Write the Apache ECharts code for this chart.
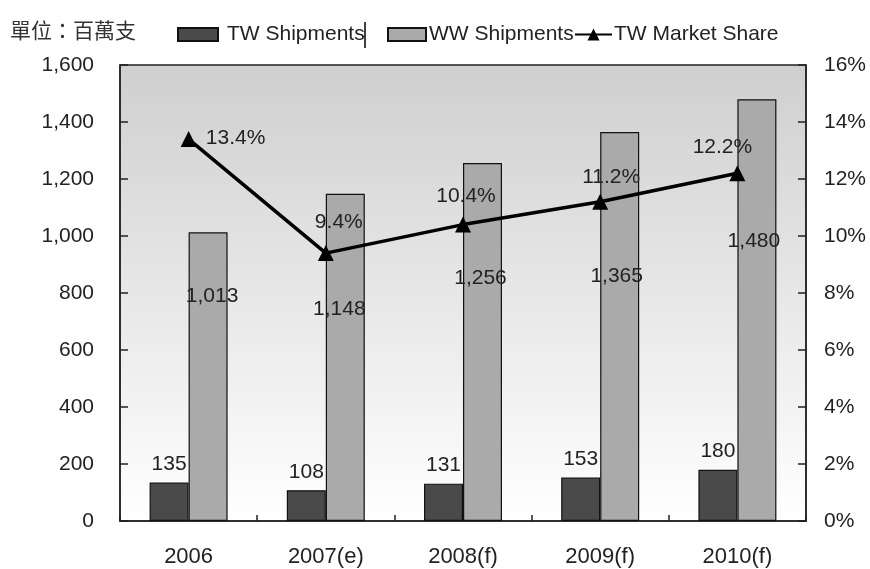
<!DOCTYPE html>
<html>
<head>
<meta charset="utf-8">
<script src="https://cdn.jsdelivr.net/npm/echarts@6/dist/echarts.min.js"></script>
<style>
html,body{margin:0;padding:0;background:#fff;}
#chart{width:870px;height:569px;}
</style>
</head>
<body>
<div id="chart"></div>
<script>
// ---- data ----
var categories = ['2006', '2007(e)', '2008(f)', '2009(f)', '2010(f)'];
var twShipments = [135, 108, 131, 153, 180];
var wwShipments = [1013, 1148, 1256, 1365, 1480];
var twShare = [13.4, 9.4, 10.4, 11.2, 12.2];
var unitLabel = '單位：百萬支';
var seriesNames = ['TW Shipments', 'WW Shipments', 'TW Market Share'];

// ---- label placement (layout only) ----
var wwLabelOffsets = [[4, 74], [-6, 126], [-2, 126], [-3, 155], [-3, 153]];
var shareLabelOffsets = [[47, -1], [13, -31], [3, -28], [11, -25], [-15, -26]];

var FONT = '"Liberation Sans", Arial, sans-serif';
var TXT = '#222';

var chart = echarts.init(document.getElementById('chart'), null, {renderer: 'canvas'});

function fmtComma(v) {
  return String(v).replace(/\B(?=(\d{3})+(?!\d))/g, ',');
}

var wwData = wwShipments.map(function (v, i) {
  return {value: v, label: {offset: wwLabelOffsets[i]}};
});
var shareData = twShare.map(function (v, i) {
  return {value: v, label: {offset: shareLabelOffsets[i]}};
});

var option = {
  animation: false,
  backgroundColor: '#fff',
  textStyle: {fontFamily: FONT},
  grid: {
    left: 120, right: 64, top: 65, bottom: 48,
    show: true,
    borderColor: '#222', borderWidth: 1.5,
    backgroundColor: new echarts.graphic.LinearGradient(0, 0, 0, 1, [
      {offset: 0, color: '#cfcfcf'},
      {offset: 1, color: '#ffffff'}
    ])
  },
  title: {
    text: unitLabel, left: 5, top: 15,
    textStyle: {fontFamily: '"Noto Sans CJK TC", sans-serif', fontSize: 21, fontWeight: 'normal', color: '#333'}
  },
  legend: [
    {data: [{name: seriesNames[0], icon: 'rect'}], left: 177, top: 24, padding: 0, itemWidth: 40, itemHeight: 13, itemGap: 0,
     textStyle: {fontSize: 21, color: TXT, fontFamily: FONT, padding: [0, 0, 0, 4]}},
    {data: [{name: seriesNames[1], icon: 'rect'}], left: 387, top: 24, padding: 0, itemWidth: 38, itemHeight: 13, itemGap: 0,
     textStyle: {fontSize: 21, color: TXT, fontFamily: FONT, padding: [0, 0, 0, -2]}},
    {data: [seriesNames[2]], left: 574, top: 24, padding: 0, itemWidth: 37, itemHeight: 15, itemGap: 0,
     textStyle: {fontSize: 21, color: TXT, fontFamily: FONT, padding: [0, 0, 0, -3]}}
  ],
  graphic: [
    {type: 'line', shape: {x1: 365, y1: 22, x2: 365, y2: 48}, style: {stroke: '#000', lineWidth: 1.5}}
  ],
  xAxis: {
    type: 'category',
    data: categories,
    boundaryGap: true,
    axisLine: {show: true, lineStyle: {color: '#222', width: 1.5}},
    axisTick: {show: true, inside: true, length: 6, alignWithLabel: false, lineStyle: {color: '#222', width: 1.5}},
    axisLabel: {fontSize: 22, color: TXT, margin: 25, fontFamily: FONT},
    splitLine: {show: false}
  },
  yAxis: [
    {
      type: 'value', min: 0, max: 1600, interval: 200,
      axisLine: {show: true, lineStyle: {color: '#222', width: 1.5}},
      axisTick: {show: true, inside: true, length: 8, lineStyle: {color: '#222', width: 1.5}},
      axisLabel: {fontSize: 21, color: TXT, margin: 26, fontFamily: FONT, formatter: fmtComma},
      splitLine: {show: false}
    },
    {
      type: 'value', min: 0, max: 16, interval: 2, position: 'right',
      axisLine: {show: true, lineStyle: {color: '#222', width: 1.5}},
      axisTick: {show: true, inside: true, length: 8, lineStyle: {color: '#222', width: 1.5}},
      axisLabel: {fontSize: 21, color: TXT, margin: 18, fontFamily: FONT, formatter: function (v) { return v + '%'; }},
      splitLine: {show: false}
    }
  ],
  series: [
    {
      name: seriesNames[0], type: 'bar', yAxisIndex: 0,
      data: twShipments, barWidth: 39, barGap: '0%',
      itemStyle: {color: '#4a4a4a', borderColor: '#111', borderWidth: 1.2},
      label: {show: true, position: 'top', distance: 8, fontSize: 21, color: TXT, fontFamily: FONT}
    },
    {
      name: seriesNames[1], type: 'bar', yAxisIndex: 0,
      data: wwData, barWidth: 39, barGap: '0%',
      itemStyle: {color: '#aaaaaa', borderColor: '#111', borderWidth: 1.2},
      label: {show: true, position: 'top', distance: 0, fontSize: 21, color: TXT, fontFamily: FONT, formatter: function (p) { return fmtComma(p.value); }}
    },
    {
      name: seriesNames[2], type: 'line', yAxisIndex: 1,
      data: shareData, z: 5,
      symbol: 'triangle', symbolSize: 16,
      lineStyle: {color: '#000', width: 3.5},
      itemStyle: {color: '#000'},
      label: {show: true, position: 'inside', fontSize: 21, color: TXT, fontFamily: FONT, formatter: function (p) { return p.value.toFixed(1) + '%'; }}
    }
  ]
};

chart.setOption(option);
</script>
</body>
</html>
